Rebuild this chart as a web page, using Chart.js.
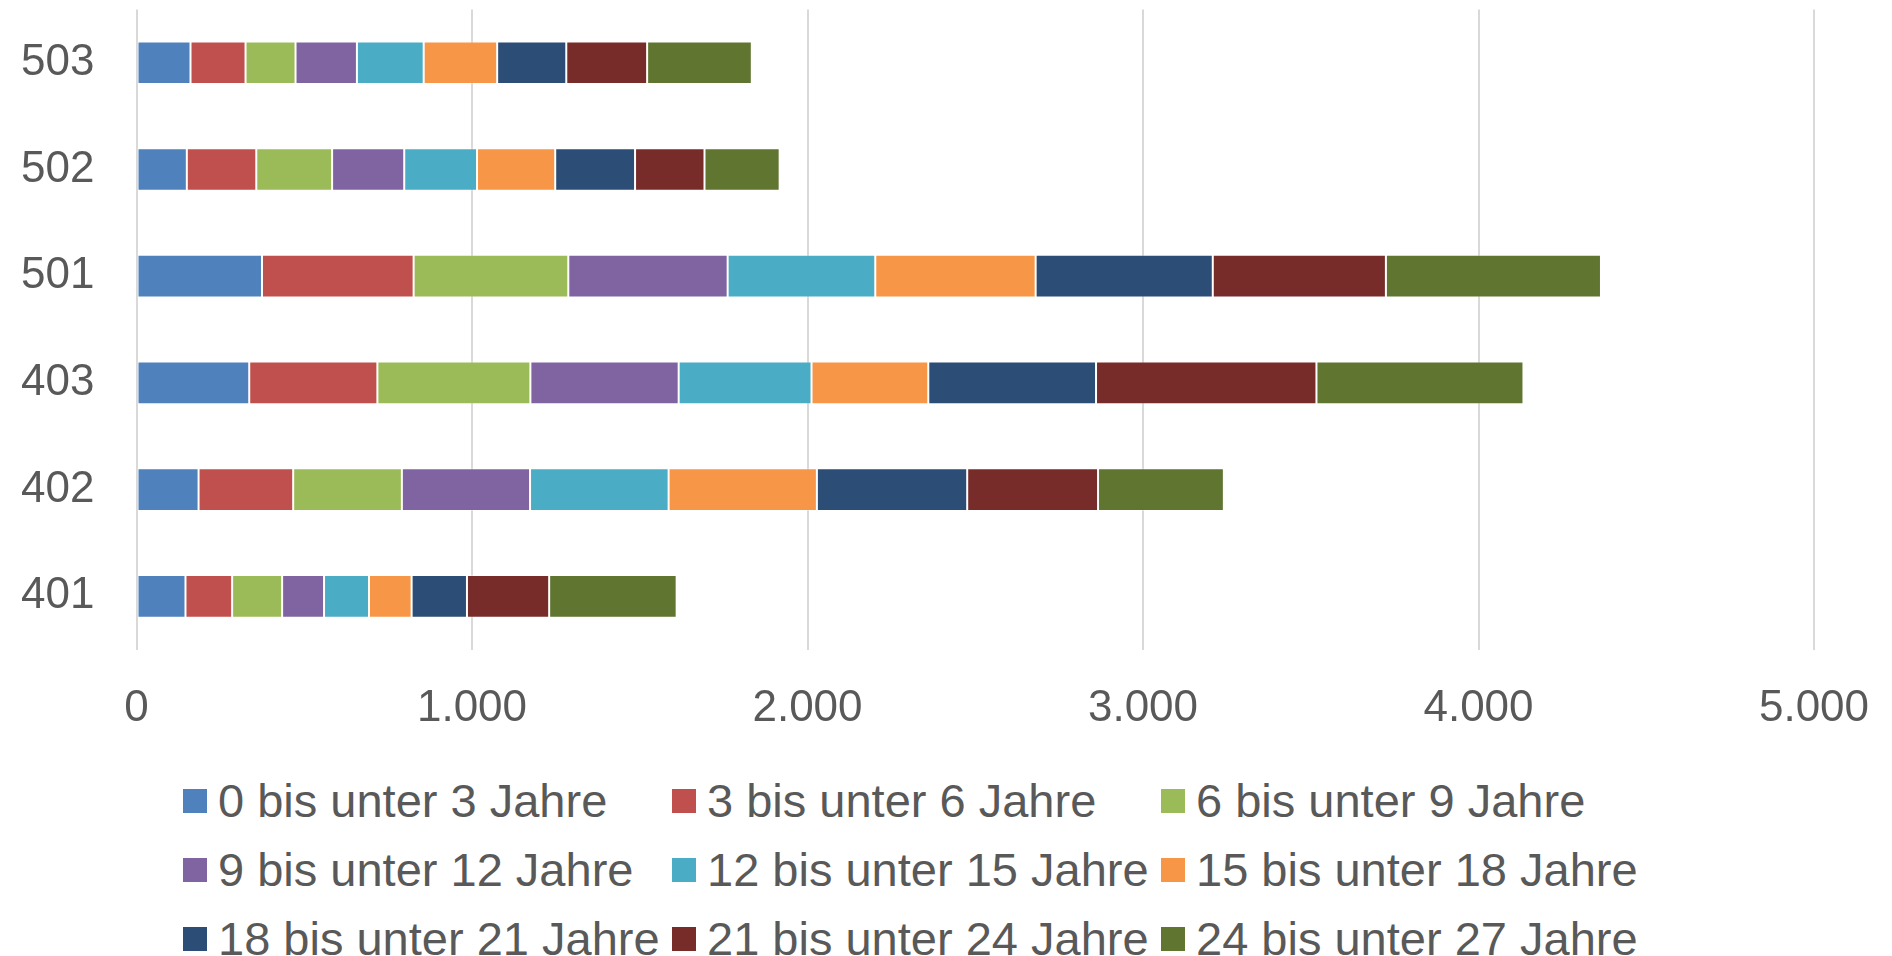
<!DOCTYPE html>
<html lang="de">
<head>
<meta charset="utf-8">
<title>Altersgruppen nach Bezirk</title>
<script src="https://cdn.jsdelivr.net/npm/chart.js@4.4.0/dist/chart.umd.min.js"></script>
<style>
  html, body { margin: 0; padding: 0; background: #fff; overflow: hidden; }
  body { width: 1892px; height: 956px; position: relative; font-family: "Liberation Sans", Arial, sans-serif; }
  #chart-wrap { position: absolute; left: 0; top: 0; width: 1892px; height: 745px; }
  #legend {
    position: absolute; left: 183px; top: 766px;
    display: grid; grid-template-columns: repeat(3, 489px); grid-auto-rows: 69px;
  }
  .legend-item { display: flex; align-items: center; white-space: nowrap; color: #595959; font-size: 47px; }
  .legend-box { width: 24px; height: 24px; margin-right: 11px; flex: none; }
</style>
</head>
<body>
<div id="chart-wrap"><canvas id="ageChart"></canvas></div>
<div id="legend"></div>
<script>
// categories (top to bottom)
const districts = ["503", "502", "501", "403", "402", "401"];

// age groups + colours
const ageGroups = [
  "0 bis unter 3 Jahre", "3 bis unter 6 Jahre", "6 bis unter 9 Jahre",
  "9 bis unter 12 Jahre", "12 bis unter 15 Jahre", "15 bis unter 18 Jahre",
  "18 bis unter 21 Jahre", "21 bis unter 24 Jahre", "24 bis unter 27 Jahre"
];
const groupColors = ["#4F81BD", "#C0504D", "#9BBB59", "#8064A2", "#4BACC6", "#F79646", "#2C4D75", "#772C2A", "#5F7530"];

// values per age group, in district order above
const age0to3 = [161, 150, 374, 336, 185, 146];
const age3to6 = [164, 207, 452, 382, 282, 139];
const age6to9 = [149, 226, 461, 456, 324, 149];
const age9to12 = [183, 215, 475, 442, 382, 125];
const age12to15 = [199, 217, 440, 396, 413, 134];
const age15to18 = [219, 233, 478, 348, 442, 127];
const age18to21 = [206, 238, 528, 500, 448, 165];
const age21to24 = [241, 207, 516, 657, 390, 245];
const age24to27 = [312, 224, 641, 617, 375, 380];

// x axis ticks
const xTickValues = [0, 1000, 2000, 3000, 4000, 5000];
const xTickLabels = ["0", "1.000", "2.000", "3.000", "4.000", "5.000"];

document.addEventListener('DOMContentLoaded', () => {
  const textGrey = "#595959";
  const gridGrey = "#D9D9D9";
  const fontFamily = '"Liberation Sans", Arial, sans-serif';
  const seriesValues = [age0to3, age3to6, age6to9, age9to12, age12to15, age15to18, age18to21, age21to24, age24to27];

  const datasets = ageGroups.map((label, i) => ({
    label: label,
    data: seriesValues[i],
    backgroundColor: groupColors[i],
    borderColor: "rgba(255,255,255,0.35)",
    borderWidth: 1,
    borderSkipped: false,
    barPercentage: 0.4,
    categoryPercentage: 1
  }));

  const ctx = document.getElementById("ageChart").getContext("2d");
  const chart = new Chart(ctx, {
    type: "bar",
    data: { labels: districts, datasets: datasets },
    options: {
      indexAxis: "y",
      responsive: true,
      maintainAspectRatio: false,
      animation: false,
      layout: { padding: { left: 0, right: 78, top: 9.4, bottom: 0 } },
      plugins: { legend: { display: false }, tooltip: { enabled: false } },
      scales: {
        x: {
          stacked: true,
          min: 0,
          max: 5000,
          afterBuildTicks: (scale) => { scale.ticks = xTickValues.map(v => ({ value: v })); },
          // fixed height, no extra side padding for the end labels
          afterFit: (scale) => {
            scale.height = 95.3;
            scale.paddingLeft = 0;
            scale.paddingRight = 0;
          },
          grid: { color: gridGrey, lineWidth: 2, drawTicks: false },
          border: { display: false },
          ticks: {
            padding: 33,
            color: textGrey,
            font: { family: fontFamily, size: 44 },
            callback: (value) => xTickLabels[xTickValues.indexOf(value)]
          }
        },
        y: {
          stacked: true,
          // fixed width, and no extra label padding above/below the bars
          afterFit: (scale) => {
            scale.width = 136.5;
            scale.paddingTop = 0;
            scale.paddingBottom = 0;
          },
          grid: { display: false, drawTicks: false },
          border: { display: false },
          ticks: {
            padding: 42,
            color: textGrey,
            font: { family: fontFamily, size: 44 }
          }
        }
      }
    }
  });

  // === LEGEND (3 columns, like the original) ===
  const legend = document.getElementById("legend");
  chart.data.datasets.forEach((ds) => {
    const item = document.createElement("div");
    item.classList.add("legend-item");
    item.innerHTML = `<span class="legend-box" style="background:${ds.backgroundColor}"></span><span>${ds.label}</span>`;
    legend.appendChild(item);
  });
});
</script>
</body>
</html>
